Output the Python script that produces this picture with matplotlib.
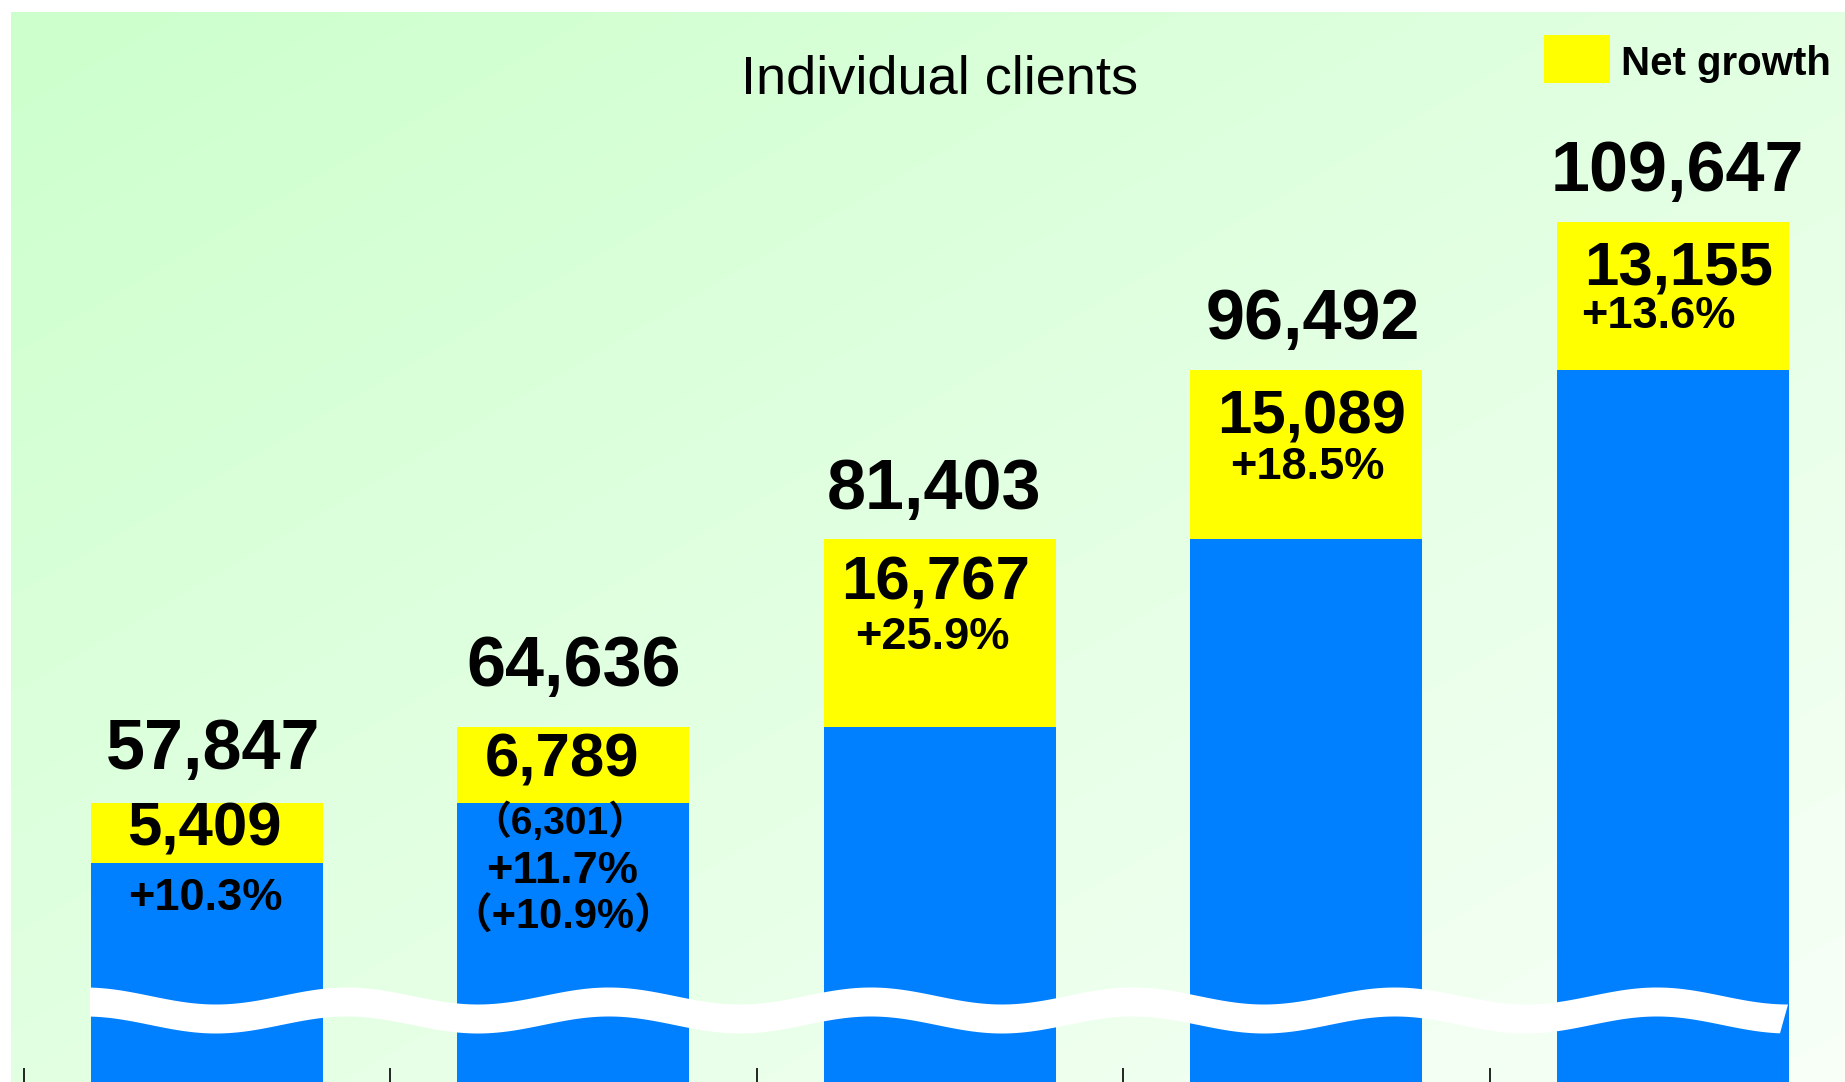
import numpy as np
import matplotlib
matplotlib.use("Agg")
import matplotlib.pyplot as plt
from matplotlib.patches import Polygon, Rectangle

# ---------------- data ----------------
totals = [57847, 64636, 81403, 96492, 109647]
net_growth = [5409, 6789, 16767, 15089, 13155]
growth_pct = ["+10.3%", "+11.7%", "+25.9%", "+18.5%", "+13.6%"]
extra_net_label = "（6,301）"      # shown on 2nd bar
extra_pct_label = "（+10.9%）"     # shown on 2nd bar
extra_bar = 1
title = "Individual clients"
legend_label = "Net growth"

base = [t - n for t, n in zip(totals, net_growth)]
total_labels = [f"{v:,}" for v in totals]
net_labels = [f"{v:,}" for v in net_growth]

# ---------------- layout / style ----------------
W, H = 1845, 1082
DPI = 100
PT = 72.0 / DPI  # points per pixel

BLUE = "#0080FF"
YELLOW = "#FFFF00"
FONT = ["Liberation Sans", "Noto Sans CJK JP", "DejaVu Sans"]
plt.rcParams["font.family"] = FONT

# label offsets in pixels (dx from bar centre, dy relative to bar top; + = up)
total_dx = [6, 0, -6, 7, 5]
total_dy = [34, 41, 30, 31, 31]
net_dx = [-2, -11, -4, 5, 6]
net_dy = [-43, -50, -61, -64, -63]
pct_dx = [-1, -11, -7, 1, -14]
pct_dy = [-107, -156, -110, -109, -106]

fig = plt.figure(figsize=(W / DPI, H / DPI), dpi=DPI)
fig.patch.set_facecolor("white")

# gradient background
bg = fig.add_axes([11 / W, 0, (W - 11) / W, (H - 12) / H], zorder=0)
gh, gw = 200, 340
yy, xx = np.mgrid[0:gh, 0:gw]
t = (xx / (gw - 1) + yy / (gh - 1)) / 2.0
c0 = np.array([204, 255, 204]) / 255.0
c1 = np.array([248, 255, 248]) / 255.0
img = c0[None, None, :] + t[:, :, None] * (c1 - c0)[None, None, :]
bg.imshow(img, aspect="auto", interpolation="bilinear")
bg.set_axis_off()

# main axes
left_px = 23.5
cat_px = 366.5
ax = fig.add_axes([left_px / W, 0, 5 * cat_px / W, 1], zorder=1)
ax.set_facecolor("none")
ax.set_xlim(-0.5, 4.5)
ax.set_ylim(32900, 129500)

x = np.arange(len(totals))
bw = 0.632
ax.bar(x, base, width=bw, color=BLUE, zorder=2, linewidth=0)
ax.bar(x, net_growth, bottom=base, width=bw, color=YELLOW, zorder=2, linewidth=0)

for s in ax.spines.values():
    s.set_visible(False)
ax.set_yticks([])
ax.set_xticks(np.arange(-0.5, 5.0, 1.0))
ax.set_xticklabels([])
ax.tick_params(axis="x", direction="in", length=14 * PT, width=1.2, color="black")

# wavy break band (decoration)
xf_top = np.linspace(90, 1788, 500)
xf_bot = np.linspace(90, 1780, 500)
top = 996 - 8.5 * np.cos(2 * np.pi * (xf_top - 347) / 262)
bot = 996 - 8.5 * np.cos(2 * np.pi * (xf_bot - 347) / 262) + 29
to_dx = lambda xf: (xf - left_px) / cat_px - 0.5
pts = np.vstack([
    np.column_stack([to_dx(xf_top), 1 - top / H]),
    np.column_stack([to_dx(xf_bot[::-1]), 1 - bot[::-1] / H]),
])
ax.add_patch(Polygon(pts, closed=True, facecolor="white", edgecolor="none",
                     transform=ax.get_xaxis_transform(), zorder=3))

def lab(i, s, dx, dy, size):
    ax.annotate(s, xy=(x[i], totals[i]), xytext=(dx * PT, dy * PT),
                textcoords="offset points", ha="center", va="baseline",
                fontsize=size, fontweight="bold", color="black",
                family=FONT, zorder=5)

for i in range(len(totals)):
    lab(i, total_labels[i], total_dx[i], total_dy[i], 50.5)
    lab(i, net_labels[i], net_dx[i], net_dy[i], 44.5)
    lab(i, growth_pct[i], pct_dx[i], pct_dy[i], 32.5)

lab(extra_bar, extra_net_label, -13, -107, 28)
lab(extra_bar, extra_pct_label, -10, -202, 30)

# title
ax.text(0.5, 1 - 93.3 / H, title, transform=ax.transAxes, ha="center",
        va="baseline", fontsize=39, color="black", zorder=5)

# legend
fig.patches.append(Rectangle((1543.5 / W, 1 - 83.3 / H), 66.5 / W, 48.3 / H,
                             transform=fig.transFigure, facecolor=YELLOW,
                             edgecolor="none", zorder=5))
fig.text(1620.7 / W, 1 - 75 / H, legend_label, ha="left", va="baseline",
         fontsize=29, fontweight="bold", color="black", zorder=5)

fig.savefig("out.png", dpi=DPI)
